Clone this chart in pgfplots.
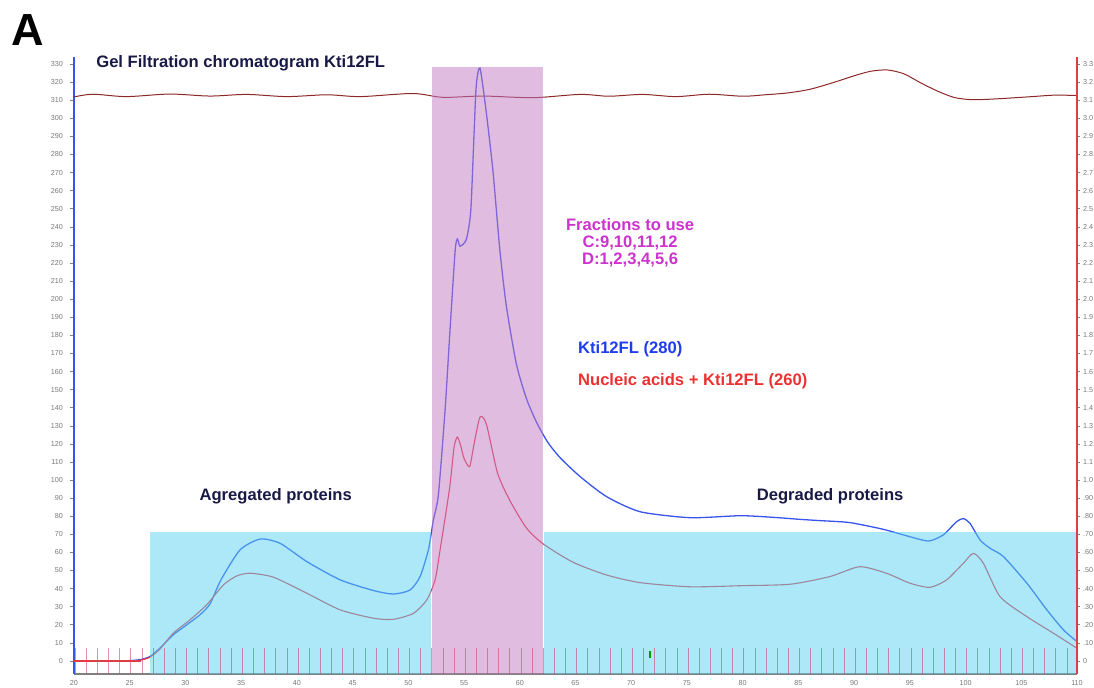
\documentclass[border=0pt]{standalone}
\usepackage{fontspec}
\setmainfont{Liberation Sans}
\usepackage{pgfplots}
\pgfplotsset{compat=1.18}
\definecolor{blueline}{RGB}{55,85,235}
\definecolor{redline}{RGB}{225,60,70}
\definecolor{condline}{RGB}{140,40,40}
\definecolor{cyanbox}{RGB}{89,209,241}
\definecolor{pinkbox}{RGB}{195,121,195}
\definecolor{navy}{RGB}{25,25,70}
\definecolor{magtext}{RGB}{204,51,204}
\definecolor{bluetext}{RGB}{30,60,240}
\definecolor{redtext}{RGB}{235,50,50}
\definecolor{ticktext}{RGB}{120,120,120}
\definecolor{fracmark}{RGB}{210,70,110}
\begin{document}
\begin{tikzpicture}
\useasboundingbox (-37pt,-7pt) rectangle (510pt,337pt);
\begin{axis}[
 at={(0,0)}, anchor=south west,
 scale only axis, width=501.5pt, height=308.5pt,
 xmin=20, xmax=110, ymin=-7.2, ymax=333.9,
 axis x line*=bottom, axis y line*=left,
 x axis line style={draw=gray, line width=0.6pt, -},
 y axis line style={draw=blueline, line width=0.8pt, -},
 xtick={20,25,...,110}, ytick={0,10,...,330},
 tick label style={font=\fontsize{3.6}{4}\selectfont, text=ticktext},
 xticklabel style={yshift=2.2pt},
 x tick style={draw=none}, y tick style={draw=gray, line width=0.3pt},
 tick align=outside, major tick length=2pt,
 /pgf/number format/assume math mode=true,
 /pgf/number format/1000 sep={},
 clip=false,
]
% conductivity-like top trace
\addplot[condline, line width=0.5pt, smooth] coordinates {
(20,311.8) (21.7,313.3) (24.7,312.0) (28.6,313.4) (32.2,312.3) (35.5,313.2) (39.1,312.0)
(42.7,313.0) (45.7,312.0) (50.4,313.7) (53.1,311.6) (56.7,312.3) (61.2,311.4) (65.4,313.2)
(68,312.2) (71,313.2) (74,312.0) (77,313.3) (80,312.2) (82,313.0) (84,314.0) (86,316.0)
(88,319.5) (90,323.5) (91.5,326.0) (93,326.7) (94.5,324.5) (96,319.5) (97.5,315.0)
(99,311.5) (100.5,310.3) (102,310.5) (104,311.2) (106,312.0) (108,312.8) (110,312.6)};
% 280 nm
\addplot[blueline, line width=0.65pt, smooth, tension=0.4] coordinates {
(20,0) (23,0) (25,0.2) (26,0.8) (26.8,2.4) (27.7,7) (28.9,14.4) (30.1,19.9) (31.3,25.5)
(32.2,31.5) (33.2,45) (34.9,61.4) (36.7,67.4) (38.5,65) (40.9,54.9) (43.9,44.8)
(46.9,38.9) (48.65,37) (50.15,39.2) (51.05,46.6) (51.8,61.4) (52.25,78) (52.7,92)
(53.3,139) (53.74,183) (54.2,226.7) (54.4,233.3) (54.64,229.3) (55.2,233) (55.6,248.6)
(55.9,292) (56.1,318.6) (56.43,327.8) (57.0,303) (57.6,270.5) (58.2,228) (58.8,196)
(59.7,164) (60.6,145) (61.5,132) (62.5,121) (63.6,112.5) (65.4,102) (67.8,90.8) (70.8,82.5)
(75.3,79.2) (79.8,80.3) (82.75,79.4) (85.1,78.3) (86.9,77.6) (89.6,76.5) (92.6,72.8)
(95.0,68.7) (96.7,66.3) (98.0,69.7) (99.2,77) (99.8,78.7) (100.4,76.1) (101.3,66.9)
(102.2,62.3) (103.4,57.7) (105.5,43) (107.3,28.2) (108.8,17.1) (110,10.7)};
% 260 nm
\addplot[redline, line width=0.55pt, smooth, tension=0.4] coordinates {
(20,0) (25,0) (26,0.5) (26.8,2) (27.7,6.5) (28.9,15.3) (30.4,22.7) (31.9,31) (33.4,42)
(34.6,47) (35.8,48.5) (37.9,46.3) (40.9,37.4) (43.9,28.2) (46.9,23.6) (48.65,23)
(50.45,26.3) (51.65,33.7) (52.4,44.8) (52.85,61.4) (53.7,95.4) (54.1,118) (54.4,123.8)
(54.7,119) (55.0,112) (55.5,107.4) (55.9,120) (56.43,134.8) (57.0,131) (58.0,104)
(59.1,88.8) (60.6,73.5) (62.1,64.7) (64.8,54.5) (67.8,47.5) (70.8,43.3) (75.3,41)
(79.8,41.6) (84.25,42.4) (87.8,46.6) (90.5,52.1) (92.9,48.5) (95.0,43) (96.8,40.7)
(98.3,44.8) (99.8,54) (100.7,59.5) (101.6,54) (103.1,35.5) (105.5,24.5) (107.9,15.3)
(110,7)};
\addplot[redline, line width=1pt] coordinates {(20,0) (26,0)};
% shaded regions
\addplot[draw=none, fill=cyanbox, fill opacity=0.5] coordinates {(26.8,-7.2) (26.8,71.3) (52.0,71.3) (52.0,-7.2)} -- cycle;
\addplot[draw=none, fill=cyanbox, fill opacity=0.5] coordinates {(62.2,-7.2) (62.2,71.3) (110,71.3) (110,-7.2)} -- cycle;
\addplot[draw=none, fill=pinkbox, fill opacity=0.5] coordinates {(52.1,-7.2) (52.1,328.5) (62.1,328.5) (62.1,-7.2)} -- cycle;
% fraction markers
\addplot[draw=none, mark=none, error bars/.cd, y dir=both, y fixed=7.2, error mark=none,
 error bar style={fracmark, line width=0.35pt, opacity=0.6}] coordinates {
(20.1,0) (21.1,0) (22.1,0) (23.1,0) (24.1,0) (25.1,0) (26.1,0) (27.1,0) (28.1,0) (29.1,0)
(30.1,0) (31.1,0) (32.1,0) (33.1,0) (34.1,0) (35.1,0) (36.1,0) (37.1,0) (38.1,0) (39.1,0)
(40.1,0) (41.1,0) (42.1,0) (43.1,0) (44.1,0) (45.1,0) (46.1,0) (47.1,0) (48.1,0) (49.1,0)
(50.1,0) (51.1,0) (52.1,0) (53.1,0) (54.1,0) (55.1,0) (56.1,0) (57.1,0) (58.1,0) (59.1,0)
(60.1,0) (61.1,0) (62.1,0) (63.1,0) (64.1,0) (65.1,0) (66.1,0) (67.1,0) (68.1,0) (69.1,0)
(70.1,0) (71.1,0) (72.1,0) (73.1,0) (74.1,0) (75.1,0) (76.1,0) (77.1,0) (78.1,0) (79.1,0)
(80.1,0) (81.1,0) (82.1,0) (83.1,0) (84.1,0) (85.1,0) (86.1,0) (87.1,0) (88.1,0) (89.1,0)
(90.1,0) (91.1,0) (92.1,0) (93.1,0) (94.1,0) (95.1,0) (96.1,0) (97.1,0) (98.1,0) (99.1,0)
(100.1,0) (101.1,0) (102.1,0) (103.1,0) (104.1,0) (105.1,0) (106.1,0) (107.1,0) (108.1,0) (109.1,0)};
\addplot[draw=none, mark=none, error bars/.cd, y dir=both, y fixed=2, error mark=none,
 error bar style={green!60!black, line width=0.8pt}] coordinates {(71.7,3.6)};
% texts
\node[anchor=center, inner sep=0pt, font=\bfseries\fontsize{22.5}{24}\selectfont] at (axis cs:15.87,348.8) {A};
\node[anchor=west, inner sep=0pt, font=\bfseries\fontsize{8.3}{9}\selectfont, text=navy] at (axis cs:21.97,330.6) {Gel Filtration chromatogram Kti12FL};
\node[align=center, inner sep=0pt, font=\bfseries\fontsize{8.3}{8.5}\selectfont, text=magtext] at (axis cs:69.9,231) {Fractions to use\\C:9,10,11,12\\D:1,2,3,4,5,6};
\node[anchor=west, inner sep=0pt, font=\bfseries\fontsize{8.3}{9}\selectfont, text=bluetext] at (axis cs:65.2,172.5) {Kti12FL (280)};
\node[anchor=west, inner sep=0pt, font=\bfseries\fontsize{8.3}{9}\selectfont, text=redtext] at (axis cs:65.2,154.8) {Nucleic acids + Kti12FL (260)};
\node[inner sep=0pt, font=\bfseries\fontsize{8.3}{9}\selectfont, text=navy] at (axis cs:38.1,91.2) {Agregated proteins};
\node[inner sep=0pt, font=\bfseries\fontsize{8.3}{9}\selectfont, text=navy] at (axis cs:87.85,91.2) {Degraded proteins};
\end{axis}
\begin{axis}[
 at={(0,0)}, anchor=south west,
 scale only axis, width=501.5pt, height=308.5pt,
 xmin=20, xmax=110, ymin=-7.2, ymax=333.9,
 axis x line=none, axis y line*=right,
 y axis line style={draw=redline, line width=0.8pt, -},
 ytick={0,10,...,330},
 yticklabels={0,.10,.20,.30,.40,.50,.60,.70,.80,.90,1.0,1.1,1.2,1.3,1.4,1.5,1.6,1.7,1.8,1.9,2.0,2.1,2.2,2.3,2.4,2.5,2.6,2.7,2.8,2.9,3.0,3.1,3.2,3.3},
 tick label style={font=\fontsize{3.6}{4}\selectfont, text=ticktext},
 yticklabel style={xshift=-2pt},
 y tick style={draw=gray, line width=0.3pt},
 tick align=outside, major tick length=1.5pt,
]
\end{axis}
\end{tikzpicture}
\end{document}
